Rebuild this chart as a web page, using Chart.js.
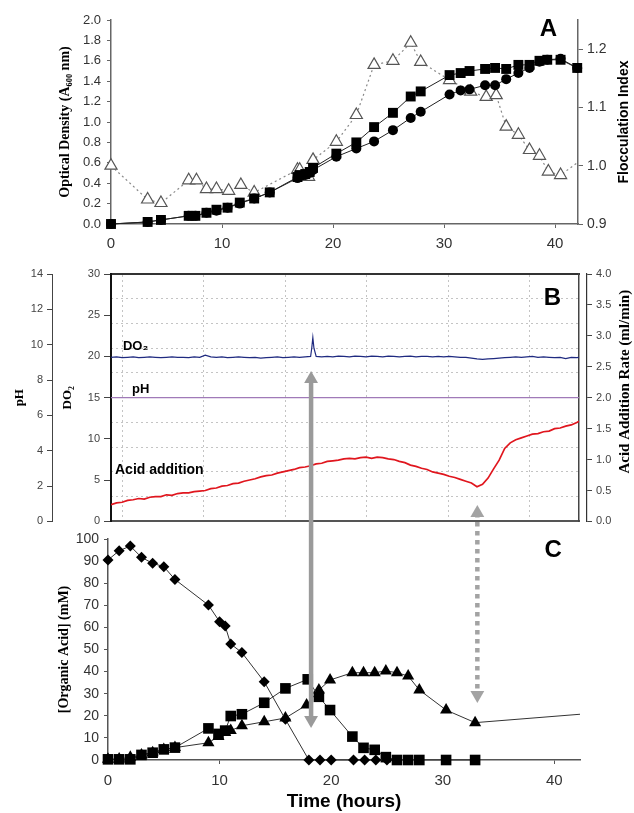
<!DOCTYPE html>
<html><head><meta charset="utf-8">
<script src="https://cdn.jsdelivr.net/npm/chart.js@4.4.1/dist/chart.umd.min.js"></script>
<style>
html,body{margin:0;padding:0;background:#fff;}
#wrap{position:relative;width:634px;height:813px;overflow:hidden;background:#fff;}
.pan{position:absolute;left:0;width:634px;}
#pa{top:0;height:260px;}
#pb{top:262px;height:270px;}
#pc{top:262px;height:551px;}
#pd{top:262px;height:551px;}
</style></head><body>
<div id="wrap">
<div class="pan" id="pa"><canvas id="ca"></canvas></div>
<div class="pan" id="pb"><canvas id="cb"></canvas></div>
<div class="pan" id="pc"><canvas id="cc"></canvas></div>
<div class="pan" id="pd"><canvas id="cd"></canvas></div>
</div>
<script>
// ---------- Panel A data ----------
const odTime = [0, 3.3, 4.5, 7.0, 7.6, 8.6, 9.5, 10.5, 11.6, 12.9, 14.3, 16.8, 17.0, 17.5, 17.9, 18.2, 20.3, 22.1, 23.7, 25.4, 27.0, 27.9, 30.5, 31.5, 32.3, 33.7, 34.6, 35.6, 36.7, 37.7, 38.6, 39.3, 40.5, 42.0];
const odSquares = [0, 0.02, 0.04, 0.08, 0.08, 0.11, 0.14, 0.16, 0.21, 0.25, 0.31, 0.46, 0.48, 0.49, 0.51, 0.55, 0.69, 0.80, 0.95, 1.09, 1.25, 1.30, 1.46, 1.48, 1.50, 1.52, 1.53, 1.52, 1.56, 1.56, 1.60, 1.61, 1.61, 1.53];
const odCircles = [0, 0.02, 0.04, 0.08, 0.08, 0.11, 0.13, 0.16, 0.20, 0.25, 0.31, 0.45, 0.47, 0.48, 0.50, 0.53, 0.66, 0.74, 0.81, 0.92, 1.04, 1.10, 1.27, 1.31, 1.32, 1.36, 1.36, 1.42, 1.48, 1.53, 1.59, 1.61, 1.62, 1.53];
const fiTime = [0, 3.3, 4.5, 7.0, 7.7, 8.6, 9.5, 10.6, 11.7, 12.9, 16.8, 17.0, 17.8, 18.2, 20.3, 22.1, 23.7, 25.4, 27.0, 27.9, 30.5, 32.4, 33.8, 34.7, 35.6, 36.7, 37.7, 38.6, 39.4, 40.5, 42.0];
const fiValues = [1.00, 0.942, 0.936, 0.975, 0.975, 0.960, 0.960, 0.957, 0.967, 0.954, 0.993, 0.993, 0.981, 1.010, 1.041, 1.087, 1.173, 1.180, 1.211, 1.178, 1.147, 1.127, 1.118, 1.121, 1.067, 1.053, 1.027, 1.017, 0.990, 0.984, 1.005];
const timeTicks = [0, 10, 20, 30, 40];

// ---------- Panel B data ----------
const do2Time = [0,0.5,1,1.5,2,2.5,3,3.5,4,4.5,5,5.5,6,6.5,7,7.5,8,8.5,9,9.5,10,10.5,11,11.5,12,12.5,13,13.5,14,14.5,15,15.5,16,16.5,17,17.5,18,18.1,18.2,18.3,18.5,19,19.5,20,20.5,21,21.5,22,22.5,23,23.5,24,24.5,25,25.5,26,26.5,27,27.5,28,28.5,29,29.5,30,30.5,31,31.5,32,32.5,33,33.5,34,34.5,35,35.5,36,36.5,37,37.5,38,38.5,39,39.5,40,40.5,41,41.5,42,42.2];
const do2Values = [19.9,19.95,19.85,19.9,19.95,19.85,19.9,19.95,19.9,19.85,19.9,19.95,19.9,19.9,19.85,19.95,19.9,20.15,19.95,19.9,19.95,19.85,19.9,19.95,19.9,19.85,19.9,19.8,19.85,19.9,19.95,19.85,19.9,19.95,19.9,19.95,20.0,
  21.0,22.3,21.0,
  20.0,19.95,20.0,19.95,20.05,20.0,19.95,20.05,20.0,19.95,20.05,20.0,19.95,20.05,20.0,19.95,20.0,20.05,19.95,20.0,20.0,19.95,20.0,19.95,20.0,19.95,19.9,19.9,19.8,19.7,19.65,19.7,19.75,19.8,19.85,19.9,19.95,19.9,19.95,20.0,19.9,19.95,19.9,19.85,19.9,19.75,19.9,19.85,
  19.9];
const acidTime = [0,0.5,1,1.5,2,2.5,3,3.5,4,4.5,5,5.5,6,6.5,7,7.5,8,8.5,9,9.5,10,10.5,11,11.5,12,12.5,13,13.5,14,14.5,15,15.5,16,16.5,17,17.5,18,18.5,19,19.5,20,20.5,21,21.5,22,22.5,23,23.5,24,24.5,25,25.5,26,26.5,27,27.5,28,28.5,29,29.5,30,30.5,31,31.5,32,32.5,33,33.5,34,34.5,35,35.5,36,36.5,37,37.5,38,38.5,39,39.5,40,40.5,41,41.5,42,42.2];
const acidRate = [0.27,0.30,0.31,0.34,0.35,0.37,0.36,0.39,0.40,0.40,0.43,0.42,0.45,0.46,0.46,0.48,0.49,0.50,0.53,0.54,0.57,0.58,0.61,0.62,0.65,0.67,0.69,0.72,0.74,0.75,0.78,0.80,0.82,0.84,0.87,0.88,0.90,0.93,0.94,0.97,0.98,0.99,1.01,1.02,1.01,1.03,1.04,1.02,1.04,1.03,1.01,1.00,0.97,0.95,0.91,0.89,0.86,0.84,0.80,0.78,0.76,0.73,0.71,0.68,0.65,0.62,0.56,0.60,0.70,0.85,0.99,1.18,1.27,1.32,1.35,1.38,1.41,1.42,1.45,1.46,1.50,1.51,1.54,1.56,1.60,1.62];
const pHTime = [0, 42.2];
const pHValues = [7.0, 7.0];

// ---------- Panel C data ----------
const acTimeD = [0,1,2,3,4,5,6,9,10,10.5,11,12,14,15.9,18,19,20,22,23,24,25];
const acDiamond = [90.5,94.7,96.8,91.7,89.0,87.5,81.7,70.1,62.6,60.6,52.5,48.6,35.4,18.4,0,0,0,0,0,0,0];
const acTimeS = [0,1,2,3,4,5,6,9,9.9,10.5,11,12,14,15.9,17.9,18.9,19.9,21.9,22.9,23.9,24.9,25.9,26.9,27.9,30.3,32.9];
const acSquare = [0.3,0.3,0.3,2.3,3.3,4.8,5.6,14.3,11.8,13.3,19.9,20.7,25.9,32.4,36.5,28.6,22.6,10.6,5.5,4.6,1.3,0,0,0,0,0];
const acTimeT = [0,1,2,3,4,5,6,9,9.9,10.5,11,12,14,15.9,17.8,18.9,19.9,21.9,22.9,23.9,24.9,25.9,26.9,27.9,30.3,32.9,42.3];
const acTriangle = [0.3,0.5,1.2,2.3,3.3,4.8,5.6,7.8,10.6,12.4,13.3,15.5,17.3,19.0,24.9,31.7,36.2,39.5,39.5,39.5,40.3,39.5,38.0,31.7,22.6,16.9,20.7];
// arrows (time, organic-acid scale units, extended upward into panel B)
const arrowSolidTime = [18.2, 18.2];
const arrowSolidLevel = [172.4, 18.1];
const arrowDotTime = [33.1, 33.1];
const arrowDotLevel = [111.8, 29.4];

// ---------- helpers ----------
const SANS = "'Liberation Sans', Arial, sans-serif";
const SERIF = "'Liberation Serif', 'Times New Roman', serif";
Chart.defaults.font.family = SANS;
Chart.defaults.color = '#333';
Chart.defaults.animation = false;
const pts = (xs, ys) => xs.map((x, i) => ({x: x, y: ys[i]}));

function makeTextPlugin(items, titles) {
  return {
    id: 'panelText',
    afterDraw(chart) {
      const ctx = chart.ctx;
      items.forEach(it => {
        const x = chart.scales[it.xAxis].getPixelForValue(it.x);
        const y = chart.scales[it.yAxis].getPixelForValue(it.y);
        ctx.save();
        ctx.font = it.font; ctx.fillStyle = '#000';
        ctx.textAlign = it.align || 'left'; ctx.textBaseline = 'middle';
        ctx.fillText(it.text, x, y);
        ctx.restore();
      });
      titles.forEach(t => {
        const s = chart.scales[t.scaleId];
        const cx = s.right - t.inset;
        const cy = (s.top + s.bottom) / 2 + t.shift;
        ctx.save();
        ctx.translate(cx, cy);
        ctx.rotate(-Math.PI / 2);
        ctx.font = t.font; ctx.fillStyle = '#000';
        ctx.textAlign = 'center'; ctx.textBaseline = 'middle';
        ctx.fillText(t.text, 0, 0);
        ctx.restore();
      });
    }
  };
}
const noLegend = {legend: {display: false}, tooltip: {enabled: false}};

// ---------- Panel A ----------
new Chart(document.getElementById('ca'), {
  type: 'line',
  data: {datasets: [
    {data: pts(odTime, odSquares), borderColor: '#222', borderWidth: 1, pointStyle: 'rect', pointRadius: 7,
     pointBackgroundColor: '#000', pointBorderColor: '#000', pointBorderWidth: 0, yAxisID: 'y', clip: false},
    {data: pts(odTime, odCircles), borderColor: '#222', borderWidth: 1, pointStyle: 'circle', pointRadius: 5,
     pointBackgroundColor: '#000', pointBorderColor: '#000', pointBorderWidth: 0, yAxisID: 'y', clip: false},
    {data: pts(fiTime, fiValues), borderColor: '#888', borderWidth: 1.2, borderDash: [2, 3], pointStyle: 'triangle',
     pointRadius: fiTime.map((t, i) => i === fiTime.length - 1 ? 0 : 7), pointBackgroundColor: '#fff',
     pointBorderColor: '#555', pointBorderWidth: 1.2, yAxisID: 'y2', clip: false}
  ]},
  options: {
    responsive: true, maintainAspectRatio: false,
    layout: {padding: {top: 20, left: 0, right: 0, bottom: 0}},
    plugins: noLegend,
    scales: {
      x: {type: 'linear', min: 0, max: 42.07,
          afterBuildTicks: s => { s.ticks = timeTicks.map(v => ({value: v})); },
          ticks: {font: {size: 15}, color: '#333', padding: 7},
          grid: {drawOnChartArea: false, tickLength: 4, tickColor: '#666'},
          border: {color: '#666', width: 1.5},
          afterFit: s => { s.height = 36; }},
      y: {position: 'left', min: 0, max: 2,
          ticks: {stepSize: 0.2, callback: v => v.toFixed(1), font: {size: 13}, color: '#333', padding: 6},
          grid: {drawOnChartArea: false, tickLength: 4, tickColor: '#666'},
          border: {color: '#666', width: 1.5},
          title: {display: true, text: 'Optical Density (A₆₀₀ nm)', color: '#000',
                  font: {family: SERIF, weight: 'bold', size: 14}, padding: {top: 57, bottom: 0}},
          afterFit: s => { s.width = 111; }},
      y2: {position: 'right', min: 0.9, max: 1.25,
          ticks: {stepSize: 0.1, includeBounds: false, callback: v => v.toFixed(1), font: {size: 14}, color: '#333', padding: 4},
          grid: {drawOnChartArea: false, tickLength: 5, tickColor: '#666'},
          border: {color: '#666', width: 1.5},
          afterFit: s => { s.width = 56; }}
    }
  },
  plugins: [makeTextPlugin(
    [{text: 'A', x: 39.4, y: 1.91, xAxis: 'x', yAxis: 'y', font: "bold 24px " + SANS, align: 'center'}],
    [{scaleId: 'y2', text: 'Flocculation Index', font: "bold 14px " + SANS, inset: 10, shift: 0}]
  )]
});

// ---------- Panel B ----------
new Chart(document.getElementById('cb'), {
  type: 'line',
  data: {datasets: [
    {data: pts(do2Time, do2Values), borderColor: '#1f2a80', borderWidth: 1.2, pointRadius: 0, xAxisID: 'x', yAxisID: 'yDO'},
    {data: pts(pHTime, pHValues), borderColor: '#a07ab8', borderWidth: 1.3, pointRadius: 0, xAxisID: 'x', yAxisID: 'yPH'},
    {data: pts(acidTime, acidRate), borderColor: '#e0161e', borderWidth: 1.7, pointRadius: 0, xAxisID: 'x', yAxisID: 'yAcid'}
  ]},
  options: {
    responsive: true, maintainAspectRatio: false,
    layout: {padding: {top: 12, left: 0, right: 0, bottom: 0}},
    plugins: noLegend,
    scales: {
      x: {type: 'linear', position: 'bottom', min: 0, max: 42.2,
          ticks: {display: false}, grid: {display: false},
          border: {color: '#555', width: 2},
          afterFit: s => { s.height = 9; }},
      xg: {type: 'linear', position: 'top', min: -0.135, max: 5.607,
          ticks: {display: false, stepSize: 1, includeBounds: false},
          grid: {color: '#c4c4c4', lineWidth: 1, drawTicks: false},
          border: {color: '#333', width: 2, dash: [2, 3]},
          afterFit: s => { s.height = 0; }},
      yDO: {position: 'left', weight: 0, min: 0, max: 30,
          ticks: {stepSize: 5, font: {size: 11}, color: '#444', padding: 4},
          grid: {drawOnChartArea: false, tickLength: 7, tickColor: '#444'},
          border: {color: '#111', width: 2},
          title: {display: true, text: 'DO₂', color: '#000', font: {family: SERIF, weight: 'bold', size: 13}, padding: {top: 8, bottom: 0}},
          afterFit: s => { s.width = 59; }},
      yPH: {position: 'left', weight: 1, min: 0, max: 14,
          ticks: {stepSize: 2, font: {size: 11}, color: '#444', padding: 4},
          grid: {drawOnChartArea: false, tickLength: 5, tickColor: '#444'},
          border: {color: '#444', width: 1},
          title: {display: true, text: 'pH', color: '#000', font: {family: SERIF, weight: 'bold', size: 13}, padding: {top: 12, bottom: 0}},
          afterFit: s => { s.width = 52; }},
      yg: {position: 'right', weight: 0, min: 0, max: 10,
          afterBuildTicks: s => { s.ticks = s.ticks.filter(t => t.value > 0 && t.value < 10); },
          ticks: {display: false, stepSize: 1},
          grid: {color: '#c4c4c4', lineWidth: 1, drawTicks: false},
          border: {color: '#444', width: 1.5, dash: [2, 3]},
          afterFit: s => { s.width = 8; }},
      yAcid: {position: 'right', weight: 1, min: 0, max: 4,
          ticks: {stepSize: 0.5, callback: v => v.toFixed(1), font: {size: 11}, color: '#444', padding: 4},
          grid: {drawOnChartArea: false, tickLength: 5, tickColor: '#444'},
          border: {color: '#333', width: 1.2},
          afterFit: s => { s.width = 47; }}
    }
  },
  plugins: [makeTextPlugin(
    [
      {text: 'B', x: 39.8, y: 27.05, xAxis: 'x', yAxis: 'yDO', font: "bold 24px " + SANS, align: 'center'},
      {text: 'DO₂', x: 1.08, y: 21.2, xAxis: 'x', yAxis: 'yDO', font: "bold 13px " + SANS},
      {text: 'pH', x: 1.9, y: 16.0, xAxis: 'x', yAxis: 'yDO', font: "bold 13px " + SANS},
      {text: 'Acid addition', x: 0.36, y: 6.2, xAxis: 'x', yAxis: 'yDO', font: "bold 14px " + SANS}
    ],
    [{scaleId: 'yAcid', text: 'Acid Addition Rate (ml/min)', font: "bold 15px " + SERIF, inset: 9, shift: -16}]
  )]
});

// ---------- Panel C ----------
new Chart(document.getElementById('cc'), {
  type: 'line',
  data: {datasets: [
    {data: pts(acTimeD, acDiamond), borderColor: '#333', borderWidth: 1, pointStyle: 'rectRot', pointRadius: 5.5,
     pointBackgroundColor: '#000', pointBorderWidth: 0, clip: false},
    {data: pts(acTimeS, acSquare), borderColor: '#333', borderWidth: 1, pointStyle: 'rect', pointRadius: 7.5,
     pointBackgroundColor: '#000', pointBorderWidth: 0, clip: false},
    {data: pts(acTimeT, acTriangle), borderColor: '#333', borderWidth: 1, pointStyle: 'triangle',
     pointRadius: acTimeT.map((t, i) => i === acTimeT.length - 1 ? 0 : 7),
     pointBackgroundColor: '#000', pointBorderWidth: 0, clip: false}
  ]},
  options: {
    responsive: true, maintainAspectRatio: false,
    layout: {padding: {top: 277, left: 0, right: 54, bottom: 0}},
    plugins: noLegend,
    scales: {
      x: {type: 'linear', min: 0, max: 42.3,
          afterBuildTicks: s => { s.ticks = timeTicks.map(v => ({value: v})); },
          ticks: {font: {size: 15}, color: '#333', padding: 8},
          grid: {drawOnChartArea: false, tickLength: 4, tickColor: '#555'},
          border: {color: '#555', width: 1.5},
          title: {display: true, text: 'Time (hours)', color: '#000', font: {weight: 'bold', size: 19}, padding: {top: 0, bottom: 0}},
          afterFit: s => { s.height = 53; }},
      y: {min: 0, max: 100,
          ticks: {stepSize: 10, font: {size: 14}, color: '#333', padding: 5},
          grid: {drawOnChartArea: false, tickLength: 4, tickColor: '#555'},
          border: {color: '#555', width: 1.5},
          title: {display: true, text: '[Organic Acid] (mM)', color: '#000',
                  font: {family: SERIF, weight: 'bold', size: 14}, padding: {top: 56, bottom: 0}},
          afterFit: s => { s.width = 108; }}
    }
  },
  plugins: [makeTextPlugin(
    [{text: 'C', x: 39.9, y: 95, xAxis: 'x', yAxis: 'y', font: "bold 24px " + SANS, align: 'center'}],
    []
  )]
});

// ---------- Arrows overlay (same time axis, organic-acid scale extended upward) ----------
new Chart(document.getElementById('cd'), {
  type: 'line',
  data: {datasets: [
    {data: pts(arrowSolidTime, arrowSolidLevel), borderColor: '#9a9a9a', borderWidth: 4.5,
     pointStyle: 'triangle', pointRadius: 8, pointRotation: [0, 180], pointBackgroundColor: '#9a9a9a', pointBorderWidth: 0},
    {data: pts(arrowDotTime, arrowDotLevel), borderColor: '#a3a3a3', borderWidth: 4.5, borderDash: [4.5, 4.5],
     pointStyle: 'triangle', pointRadius: 8, pointRotation: [0, 180], pointBackgroundColor: '#a3a3a3', pointBorderWidth: 0}
  ]},
  options: {
    responsive: true, maintainAspectRatio: false,
    layout: {padding: {top: 38, left: 108, right: 54, bottom: 53}},
    plugins: noLegend,
    scales: {
      x: {type: 'linear', display: false, min: 0, max: 42.3},
      y: {display: false, min: 0, max: 208.14}
    }
  }
});
</script>
</body></html>
